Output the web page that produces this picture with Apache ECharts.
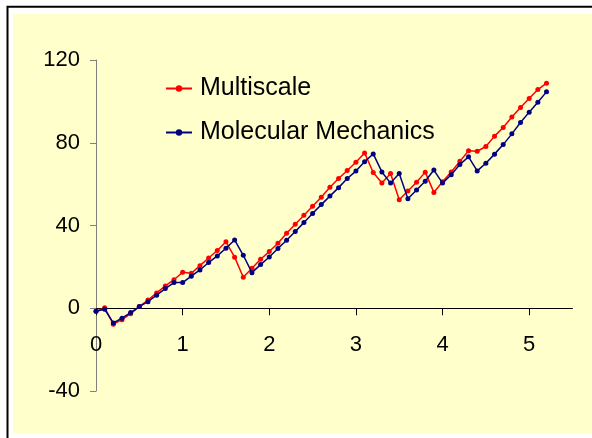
<!DOCTYPE html>
<html>
<head>
<meta charset="utf-8">
<script src="https://cdn.jsdelivr.net/npm/echarts@6/dist/echarts.min.js"></script>
<style>
  html, body { margin: 0; padding: 0; background: #fff; }
  #chart { width: 592px; height: 438px; }
</style>
</head>
<body>
<div id="chart"></div>
<script>
// x values (displacement)
var xValues = [0, 0.1, 0.2, 0.3, 0.4, 0.5, 0.6, 0.7, 0.8, 0.9,
               1.0, 1.1, 1.2, 1.3, 1.4, 1.5, 1.6, 1.7, 1.8, 1.9,
               2.0, 2.1, 2.2, 2.3, 2.4, 2.5, 2.6, 2.7, 2.8, 2.9,
               3.0, 3.1, 3.2, 3.3, 3.4, 3.5, 3.6, 3.7, 3.8, 3.9,
               4.0, 4.1, 4.2, 4.3, 4.4, 4.5, 4.6, 4.7, 4.8, 4.9,
               5.0, 5.1, 5.2];

var multiscale = [-1.5, 0.3, -7.7, -5.5, -2.6, 0.8, 4.0, 7.4, 10.8, 13.8,
                  17.4, 16.9, 20.6, 24.3, 27.9, 32.1, 24.7, 15.0, 19.3, 23.7,
                  27.4, 31.4, 36.3, 40.6, 45.0, 49.3, 53.7, 58.5, 62.7, 66.6,
                  70.6, 75.1, 65.6, 60.5, 65.1, 52.4, 56.7, 60.9, 65.8, 56.0,
                  61.1, 65.9, 71.0, 76.1, 75.9, 78.2, 83.2, 87.4, 92.4, 97.0,
                  101.4, 105.7, 108.8];

var molecular = [-1.5, -0.5, -7.1, -4.8, -2.1, 0.8, 3.2, 6.3, 9.5, 12.4,
                 12.4, 15.5, 18.5, 22.1, 25.3, 29.0, 33.0, 25.6, 17.2, 21.1,
                 24.8, 28.9, 32.9, 37.1, 41.4, 45.8, 50.1, 54.2, 58.3, 62.7,
                 66.3, 70.8, 74.6, 65.9, 60.5, 65.1, 52.9, 57.2, 61.4, 66.8,
                 60.5, 64.5, 69.5, 73.2, 66.4, 70.1, 74.5, 79.1, 84.3, 89.8,
                 94.8, 99.6, 104.6];

var seriesNames = ['Multiscale', 'Molecular Mechanics'];
var xTickValues = [0, 1, 2, 3, 4, 5];
var yMin = -40, yMax = 120;

function pairs(xs, ys) {
  return xs.map(function (x, i) { return [x, ys[i]]; });
}

var gridTop = 60, gridBottom = 47, H = 438;
var gridH = H - gridTop - gridBottom;
// distance from the bottom of the grid up to the y = 0 line
var zeroOffset = gridH * (0 - yMin) / (yMax - yMin);

var chart = echarts.init(document.getElementById('chart'), null, { renderer: 'canvas' });
var font = "'Liberation Sans', Arial, sans-serif";

chart.setOption({
  animation: false,
  backgroundColor: '#ffffff',
  textStyle: { fontFamily: font, color: '#000' },
  graphic: [
    { type: 'rect', silent: true, z: -20,
      shape: { x: 7.5, y: 6.7, width: 700, height: 600 },
      style: { fill: '#ffffff', stroke: '#000000', lineWidth: 2 } },
    { type: 'rect', silent: true, z: -19,
      shape: { x: 13, y: 14, width: 700, height: 419 },
      style: { fill: '#FFFFCC' } }
  ],
  grid: { left: 96, right: 19.5, top: gridTop, bottom: gridBottom, containLabel: false },
  legend: {
    orient: 'vertical',
    left: 160,
    top: 71,
    itemWidth: 26,
    itemHeight: 8,
    itemGap: 19,
    textStyle: { fontFamily: font, fontSize: 25, color: '#000', lineHeight: 25, padding: [0, 0, 0, 3] },
    data: seriesNames
  },
  xAxis: {
    type: 'value',
    position: 'bottom',
    offset: -zeroOffset,
    min: 0, max: 5.5, interval: 1,
    axisLine: { onZero: false, lineStyle: { color: '#000', width: 1 } },
    axisTick: { show: true, inside: false, length: 7, lineStyle: { color: '#000' }, customValues: xTickValues },
    axisLabel: { fontFamily: font, fontSize: 22, color: '#000', margin: 26, customValues: xTickValues },
    splitLine: { show: false }
  },
  yAxis: {
    type: 'value',
    min: yMin, max: yMax, interval: 40,
    axisLine: { show: true, onZero: false, lineStyle: { color: '#808080', width: 1 } },
    axisTick: { show: true, inside: false, length: 6, lineStyle: { color: '#808080' } },
    axisLabel: { fontFamily: font, fontSize: 22, color: '#000', margin: 16 },
    splitLine: { show: false }
  },
  series: [
    {
      name: seriesNames[0],
      type: 'line',
      data: pairs(xValues, multiscale),
      symbol: 'circle',
      symbolSize: 5,
      itemStyle: { color: '#FF0000' },
      lineStyle: { color: '#FF0000', width: 1.5 },
      z: 3
    },
    {
      name: seriesNames[1],
      type: 'line',
      data: pairs(xValues, molecular),
      symbol: 'circle',
      symbolSize: 5,
      itemStyle: { color: '#000080' },
      lineStyle: { color: '#000080', width: 1.5 },
      z: 4
    }
  ]
});
</script>
</body>
</html>
